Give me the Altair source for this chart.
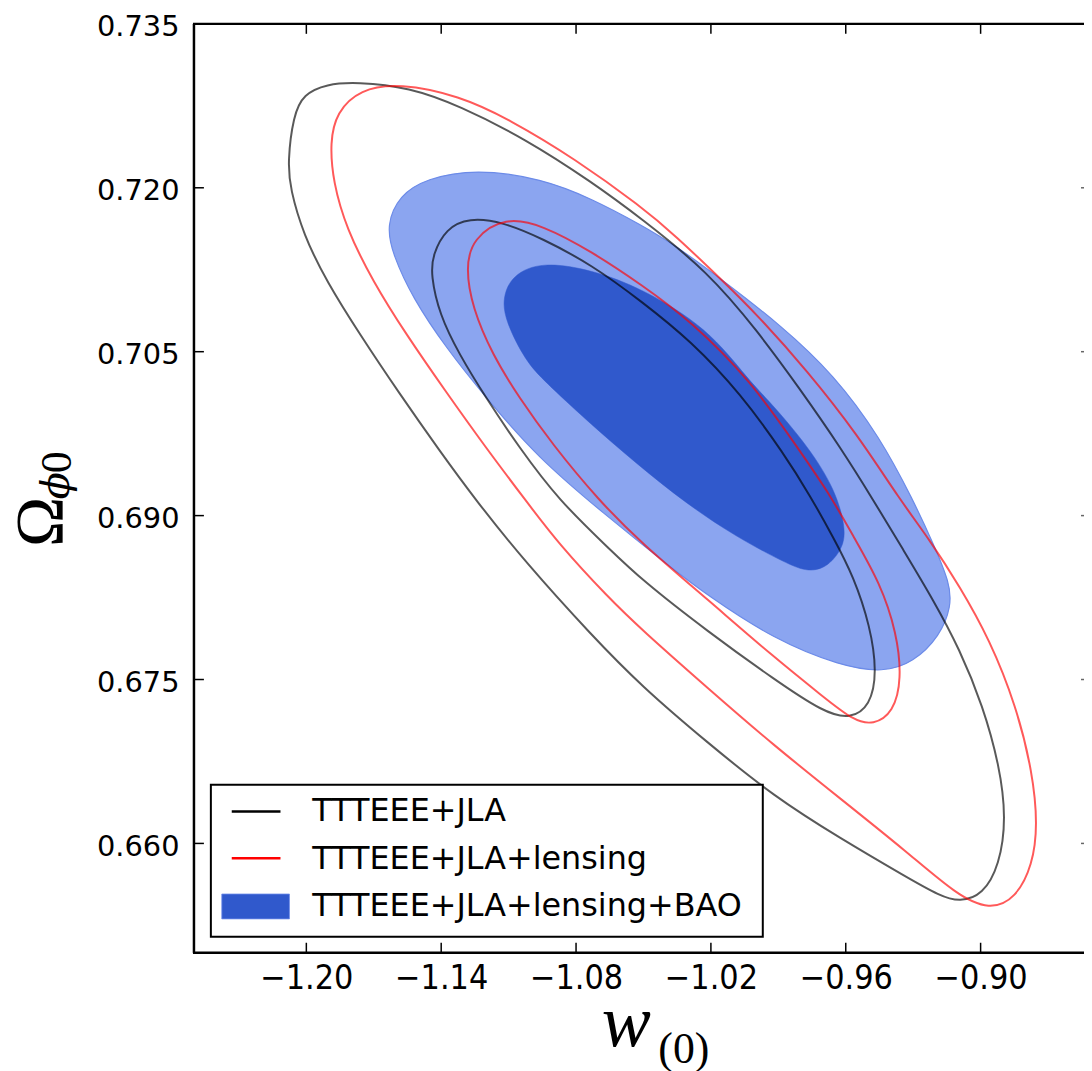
import altair as alt
import pandas as pd

# ---------------- data ----------------
X_TICKS = [-1.20, -1.14, -1.08, -1.02, -0.96, -0.90]
Y_TICKS = [0.660, 0.675, 0.690, 0.705, 0.720, 0.735]
X_DOMAIN = [-1.25, -0.854]
Y_DOMAIN = [0.650, 0.735]

LEGEND_LABELS = ["TTTEEE+JLA", "TTTEEE+JLA+lensing", "TTTEEE+JLA+lensing+BAO"]

# TTTEEE+JLA, 95% contour
black95_w = [-1.1777, -1.1541, -1.1320, -1.1025, -1.0730, -1.0509, -1.0214, -0.9992, -0.9801, -0.9624,
             -0.9477, -0.9344, -0.9211, -0.9093, -0.8990, -0.8916, -0.8886, -0.8916, -0.8990, -0.9093,
             -0.9181, -0.9329, -0.9624, -0.9919, -1.0214, -1.0509, -1.0730, -1.1025, -1.1246, -1.1408,
             -1.1585, -1.1762, -1.1910, -1.2013, -1.2072, -1.2083, -1.2058, -1.2013, -1.1910]
black95_om = [0.72969, 0.72918, 0.72751, 0.72447, 0.72053, 0.71719, 0.71234, 0.70688, 0.70151, 0.69626,
              0.69141, 0.68686, 0.68231, 0.67776, 0.67260, 0.66713, 0.66228, 0.65803, 0.65530, 0.65464,
              0.65519, 0.65691, 0.66046, 0.66429, 0.66920, 0.67439, 0.67903, 0.68572, 0.69141, 0.69596,
              0.70114, 0.70658, 0.71143, 0.71571, 0.71992, 0.72235, 0.72660, 0.72857, 0.72948]

# TTTEEE+JLA+lensing, 95% contour
red95_w = [-1.1585, -1.1320, -1.1099, -1.0804, -1.0509, -1.0361, -1.0140, -0.9992, -0.9771, -0.9550,
           -0.9358, -0.9226, -0.9093, -0.8960, -0.8842, -0.8769, -0.8746, -0.8769, -0.8842, -0.8960,
           -0.9108, -0.9329, -0.9624, -0.9919, -1.0214, -1.0509, -1.0656, -1.0877, -1.1025, -1.1202,
           -1.1379, -1.1556, -1.1704, -1.1822, -1.1881, -1.1895, -1.1866, -1.1762]
red95_om = [0.72957, 0.72842, 0.72629, 0.72265, 0.71825, 0.71568, 0.71134, 0.70833, 0.70324, 0.69748,
            0.69141, 0.68777, 0.68352, 0.67867, 0.67260, 0.66653, 0.66167, 0.65803, 0.65500, 0.65388,
            0.65530, 0.65925, 0.66410, 0.66895, 0.67421, 0.67958, 0.68249, 0.68740, 0.69141, 0.69623,
            0.70133, 0.70658, 0.71143, 0.71628, 0.72053, 0.72417, 0.72690, 0.72902]

# TTTEEE+JLA, 68% contour
black68_w = [-1.1276, -1.1128, -1.0951, -1.0730, -1.0509, -1.0288, -1.0066, -0.9875, -0.9757, -0.9654,
             -0.9565, -0.9491, -0.9461, -0.9491, -0.9580, -0.9698, -0.9919, -1.0214, -1.0509, -1.0656,
             -1.0877, -1.1054, -1.1202, -1.1320, -1.1408, -1.1446, -1.1438, -1.1379]
black68_om = [0.71725, 0.71689, 0.71537, 0.71295, 0.70961, 0.70597, 0.70112, 0.69566, 0.69177, 0.68795,
              0.68443, 0.67988, 0.67564, 0.67260, 0.67138, 0.67199, 0.67502, 0.67939, 0.68413, 0.68704,
              0.69141, 0.69626, 0.70081, 0.70476, 0.70840, 0.71204, 0.71386, 0.71628]

# TTTEEE+JLA+lensing, 68% contour
red68_w = [-1.1114, -1.0951, -1.0730, -1.0509, -1.0288, -1.0022, -0.9816, -0.9668, -0.9565, -0.9447,
           -0.9373, -0.9351, -0.9388, -0.9477, -0.9565, -0.9698, -0.9919, -1.0214, -1.0509, -1.0700,
           -1.0907, -1.1054, -1.1173, -1.1261, -1.1291, -1.1261]
red68_om = [0.71734, 0.71659, 0.71416, 0.71113, 0.70779, 0.70233, 0.69626, 0.69186, 0.68804, 0.68383,
            0.67928, 0.67502, 0.67199, 0.67084, 0.67123, 0.67339, 0.67703, 0.68231, 0.68747, 0.69141,
            0.69657, 0.70081, 0.70476, 0.70900, 0.71264, 0.71537]

# TTTEEE+JLA+lensing+BAO, 95% (filled, light)
blue95_w = [-1.1246, -1.0951, -1.0730, -1.0509, -1.0361, -1.0140, -0.9889, -0.9654, -0.9447, -0.9300,
            -0.9211, -0.9137, -0.9130, -0.9181, -0.9300, -0.9432, -0.9624, -0.9919, -1.0214, -1.0384,
            -1.0678, -1.0973, -1.1202, -1.1379, -1.1527, -1.1615, -1.1645, -1.1585, -1.1468]
blue95_om = [0.72174, 0.72083, 0.71901, 0.71659, 0.71477, 0.71143, 0.70742, 0.70294, 0.69717, 0.69141,
             0.68747, 0.68383, 0.68170, 0.67897, 0.67655, 0.67564, 0.67624, 0.67867, 0.68267, 0.68535,
             0.69020, 0.69535, 0.70081, 0.70536, 0.70991, 0.71386, 0.71659, 0.71932, 0.72083]

# TTTEEE+JLA+lensing+BAO, 68% (filled, dark)
blue68_w = [-1.0951, -1.0730, -1.0509, -1.0214, -1.0030, -0.9941, -0.9764, -0.9646, -0.9602, -0.9609,
            -0.9676, -0.9764, -0.9867, -1.0089, -1.0310, -1.0531, -1.0752, -1.0942, -1.1025, -1.1114,
            -1.1128, -1.1084]
blue68_om = [0.71325, 0.71249, 0.71082, 0.70718, 0.70233, 0.70051, 0.69626, 0.69232, 0.68898, 0.68716,
             0.68535, 0.68479, 0.68565, 0.68807, 0.69111, 0.69475, 0.69869, 0.70233, 0.70415, 0.70779,
             0.70991, 0.71204]

# ---------------- layout ----------------
W, H = 895, 934
TICK = 10

xs = alt.Scale(domain=X_DOMAIN, nice=False, zero=False)
ys = alt.Scale(domain=Y_DOMAIN, nice=False, zero=False)
xax = alt.Axis(values=X_TICKS, format=".2f", title=None, grid=False, domain=False, ticks=False,
               tickSize=0, labelPadding=9, labelFont="DejaVu Sans Condensed, DejaVu Sans",
               labelFontSize=34, labelColor="black", labelFlush=False, labelOverlap=False)
yax = alt.Axis(values=Y_TICKS, format=".3f", title=None, grid=False, domain=False, ticks=False,
               tickSize=0, labelPadding=15, labelFont="DejaVu Sans", labelFontSize=29,
               labelColor="black", labelOffset=3, labelFlush=False, labelOverlap=False)


def X(field="w"):
    return alt.X(f"{field}:Q", scale=xs, axis=xax)


def Y(field="om"):
    return alt.Y(f"{field}:Q", scale=ys, axis=yax)


def contour(wv, omv, **mark):
    df = pd.DataFrame({"w": wv, "om": omv, "i": list(range(len(wv)))})
    return alt.Chart(df).mark_line(interpolate="basis-closed", **mark).encode(
        x=X(), y=Y(), order="i:Q")


one = pd.DataFrame({"k": [0]})

layers = [
    contour(blue95_w, blue95_om, fill="#8BA5F0", stroke="#6C8BE8", strokeWidth=1.2),
    contour(blue68_w, blue68_om, fill="#3059CC", stroke="#3059CC", strokeWidth=0.5),
    contour(black95_w, black95_om, stroke="black", strokeOpacity=0.65, strokeWidth=2),
    contour(red95_w, red95_om, stroke="red", strokeOpacity=0.65, strokeWidth=2),
    contour(black68_w, black68_om, stroke="black", strokeOpacity=0.65, strokeWidth=2),
    contour(red68_w, red68_om, stroke="red", strokeOpacity=0.65, strokeWidth=2),
]

xt = pd.DataFrame({"w": X_TICKS})
yt = pd.DataFrame({"om": Y_TICKS})
layers += [
    alt.Chart(xt).mark_rule(color="black", strokeWidth=1.5).encode(
        x=X(), y=alt.value(0), y2=alt.value(TICK)),
    alt.Chart(xt).mark_rule(color="black", strokeWidth=1.5).encode(
        x=X(), y=alt.value(H - TICK), y2=alt.value(H)),
    alt.Chart(yt).mark_rule(color="black", strokeWidth=1.5).encode(
        y=Y(), x=alt.value(0), x2=alt.value(TICK)),
    alt.Chart(yt).mark_rule(color="#666666", strokeWidth=1.5).encode(
        y=Y(), x=alt.value(W - 3), x2=alt.value(W)),
    # frame (top, left, bottom)
    alt.Chart(one).mark_rule(color="black", strokeWidth=2.5).encode(
        x=alt.value(-1), x2=alt.value(W), y=alt.value(0)),
    alt.Chart(one).mark_rule(color="black", strokeWidth=2.5).encode(
        x=alt.value(0), y=alt.value(0), y2=alt.value(H)),
    alt.Chart(one).mark_rule(color="black", strokeWidth=2.5).encode(
        x=alt.value(-1), x2=alt.value(W), y=alt.value(H)),
]

# legend
layers.append(
    alt.Chart(one).mark_rect(fill="white", stroke="black", strokeWidth=2).encode(
        x=alt.value(17), x2=alt.value(572), y=alt.value(765), y2=alt.value(918)))
layers.append(
    alt.Chart(one).mark_rule(color="black", strokeWidth=2.5).encode(
        x=alt.value(38), x2=alt.value(87), y=alt.value(792)))
layers.append(
    alt.Chart(one).mark_rule(color="red", strokeWidth=2.5).encode(
        x=alt.value(38), x2=alt.value(87), y=alt.value(839)))
layers.append(
    alt.Chart(one).mark_rect(fill="#3059CC", stroke="#6C8BE8", strokeWidth=0.8).encode(
        x=alt.value(28), x2=alt.value(96), y=alt.value(875), y2=alt.value(900)))
for k, ybase in enumerate([802, 850, 897]):
    layers.append(
        alt.Chart(pd.DataFrame({"label": [LEGEND_LABELS[k]]})).mark_text(
            align="left", baseline="alphabetic", font="DejaVu Sans", fontSize=32, color="black").encode(
            x=alt.value(119), y=alt.value(ybase), text="label:N"))

# axis titles (math-like)
layers += [
    alt.Chart(pd.DataFrame({"t": ["w"]})).mark_text(
        align="left", baseline="alphabetic", font="Liberation Serif", fontStyle="italic",
        fontSize=74, color="black").encode(x=alt.value(410), y=alt.value(1028), text="t:N"),
    alt.Chart(pd.DataFrame({"t": ["(0)"]})).mark_text(
        align="left", baseline="alphabetic", font="Liberation Serif",
        fontSize=44, color="black").encode(x=alt.value(467), y=alt.value(1045), text="t:N"),
    alt.Chart(pd.DataFrame({"t": ["Ω"]})).mark_text(
        align="left", baseline="alphabetic", font="Liberation Serif", angle=270,
        fontSize=68, color="black").encode(x=alt.value(-133), y=alt.value(526), text="t:N"),
    alt.Chart(pd.DataFrame({"t": ["ϕ"]})).mark_text(
        align="left", baseline="alphabetic", font="DejaVu Serif", fontStyle="italic", angle=270,
        fontSize=40, color="black").encode(x=alt.value(-126), y=alt.value(478), text="t:N"),
    alt.Chart(pd.DataFrame({"t": ["0"]})).mark_text(
        align="left", baseline="alphabetic", font="Liberation Serif", angle=270,
        fontSize=44, color="black").encode(x=alt.value(-124), y=alt.value(452), text="t:N"),
]

chart = alt.layer(*layers).properties(
    width=W, height=H,
    autosize=alt.AutoSizeParams(type="none"),
    padding={"left": 187, "top": 13, "right": 0, "bottom": 116},
    background="white",
).configure_view(stroke=None)

chart.save("out.html", embed_options={"renderer": "svg", "actions": False})
